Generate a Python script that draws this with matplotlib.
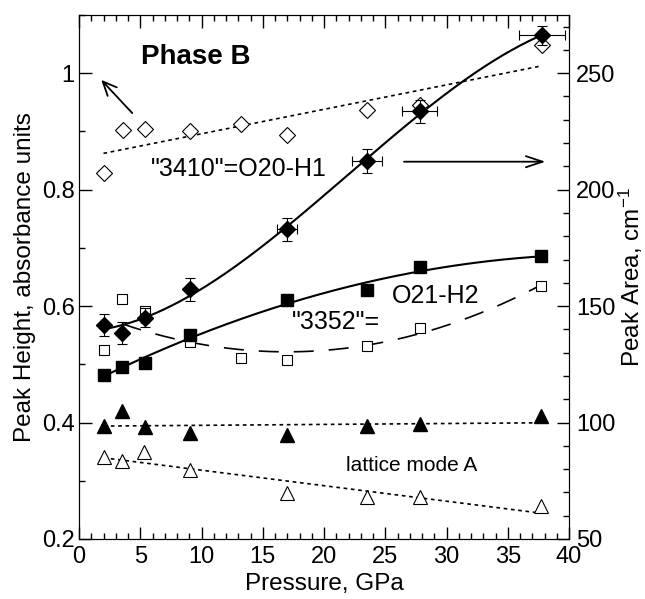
import matplotlib
matplotlib.use("Agg")
import matplotlib.pyplot as plt
from matplotlib.ticker import MultipleLocator
import numpy as np

plt.rcParams['font.family'] = ['Liberation Sans', 'DejaVu Sans']
plt.rcParams['mathtext.fontset'] = 'custom'
plt.rcParams['mathtext.rm'] = 'Liberation Sans'
plt.rcParams['mathtext.it'] = 'Liberation Sans:italic'

# "3410" peak height (open diamonds, left axis)
p_hd = [2.0, 3.6, 5.4, 9.1, 13.2, 17.0, 23.5, 27.8, 37.8]
h_hd = [0.829, 0.902, 0.905, 0.900, 0.913, 0.893, 0.936, 0.945, 1.048]

# "3410" peak area (filled diamonds, right axis)
p_fd = [2.0, 3.5, 5.4, 9.1, 17.0, 23.5, 27.8, 37.8]
a_fd = [142.0, 138.5, 145.0, 157.2, 183.0, 212.3, 233.7, 266.2]
a_fd_err = [4.7, 4.7, 4.0, 5.0, 5.0, 5.0, 5.0, 4.0]
p_fd_err = [0.2, 0.2, 0.3, 0.3, 0.8, 1.2, 1.4, 1.9]

# "3352" peak height (open squares, left axis)
p_hs = [2.0, 3.5, 5.4, 9.1, 13.2, 17.0, 23.5, 27.8, 37.7]
h_hs = [0.524, 0.612, 0.592, 0.539, 0.510, 0.508, 0.532, 0.562, 0.635]

# "3352" peak area (filled squares, right axis)
p_fs = [2.0, 3.5, 5.4, 9.1, 17.0, 23.5, 27.8, 37.7]
a_fs = [120.5, 123.8, 125.7, 137.7, 152.7, 157.0, 166.6, 171.3]

# lattice mode A height (open triangles, left axis)
p_ht = [2.0, 3.5, 5.3, 9.1, 17.0, 23.5, 27.8, 37.7]
h_ht = [0.341, 0.334, 0.350, 0.318, 0.279, 0.272, 0.272, 0.257]

# lattice mode A area (filled triangles, right axis)
p_ft = [2.0, 3.5, 5.4, 9.1, 17.0, 23.5, 27.8, 37.7]
a_ft = [98.5, 105.0, 98.0, 95.5, 94.5, 98.4, 99.5, 102.8]

fig = plt.figure(figsize=(6.45, 5.99), dpi=100)
ax = fig.add_axes([0.1225, 0.1002, 0.7597, 0.8748])
ax2 = ax.twinx()

ax.set_xlim(0, 40)
ax.set_ylim(0.2, 1.1)
ax2.set_ylim(50, 275)


def fit(x, y, deg, x0=None):
    c = np.polyfit(x, y, deg)
    xs = np.linspace(x[0] if x0 is None else x0, x[-1], 200)
    return xs, np.polyval(c, xs)


dot = (0, (2.2, 2.2))

# open diamonds + linear fit
xs, ys = fit(p_hd, h_hd, 1)
ax.plot(xs, ys, color='black', lw=1.2, ls=dot)
ax.plot(p_hd, h_hd, 'D', mfc='white', mec='black', ms=8, mew=0.8)

# open squares + dashed fit
xs, ys = fit(p_hs, h_hs, 2, x0=3.5)
ax.plot(xs, ys, color='black', lw=1.2, ls=(0, (12, 9)))
ax.plot(p_hs, h_hs, 's', mfc='white', mec='black', ms=6.5, mew=0.8)

# open triangles + fit
xs, ys = fit(p_ht, h_ht, 1)
ax.plot(xs, ys, color='black', lw=1.2, ls=dot)
ax.plot(p_ht, h_ht, '^', mfc='white', mec='black', ms=10, mew=0.8)

# filled diamonds + smooth fit
xs, ys = fit(p_fd, a_fd, 3)
ax2.plot(xs, ys, color='black', lw=1.5)
ax2.errorbar(p_fd, a_fd, yerr=a_fd_err, xerr=p_fd_err, fmt='D', color='black',
             ms=8, elinewidth=0.8, capsize=3.5, capthick=0.8)

# filled squares + fit
xs, ys = fit(p_fs, a_fs, 2)
ax2.plot(xs, ys, color='black', lw=1.5)
ax2.plot(p_fs, a_fs, 's', color='black', ms=8)

# filled triangles + fit
xs, ys = fit(p_ft, a_ft, 1)
ax2.plot(xs, ys, color='black', lw=1.2, ls=dot)
ax2.plot(p_ft, a_ft, '^', color='black', ms=10)

# ticks
for a in (ax, ax2):
    a.tick_params(which='both', direction='in', labelsize=17)
    a.tick_params(which='major', length=9, width=1)
    a.tick_params(which='minor', length=4.5, width=1)
ax.tick_params(axis='x', which='both', top=True)
ax.tick_params(axis='y', which='both', right=False)
ax.tick_params(axis='x', pad=5)
ax.tick_params(axis='y', pad=3)
ax2.tick_params(axis='y', pad=5)
ax.xaxis.set_major_locator(MultipleLocator(5))
ax.xaxis.set_minor_locator(MultipleLocator(1))
ax.yaxis.set_minor_locator(MultipleLocator(0.1))
ax.set_yticks([0.2, 0.4, 0.6, 0.8, 1.0])
ax.set_yticklabels(['0.2', '0.4', '0.6', '0.8', '1'])
ax2.yaxis.set_major_locator(MultipleLocator(50))
ax2.yaxis.set_minor_locator(MultipleLocator(10))

ax.set_xlabel('Pressure, GPa', fontsize=17.5)
ax.set_ylabel('Peak Height, absorbance units', fontsize=17.5)
ax2.set_ylabel('Peak Area, cm$^{-1}$', fontsize=17.5)
ax.yaxis.set_label_coords(-0.088, 0.5)
ax2.yaxis.set_label_coords(1.098, 0.5)

# annotations
ax2.text(5.1, 257, 'Phase B', fontsize=20, fontweight='bold', va='center')
ax2.text(5.9, 209, '"3410"=O20-H1', fontsize=18, va='center')
ax2.text(17.4, 143, '"3352"=', fontsize=18, va='center')
ax2.text(25.5, 154.5, 'O21-H2', fontsize=18, va='center')
ax2.text(21.8, 81.7, 'lattice mode A', fontsize=15, va='center')
ax2.annotate('', xy=(1.66, 248), xytext=(4.5, 232),
             arrowprops=dict(arrowstyle='->,head_length=1.0,head_width=0.45',
                             color='black', lw=1.3))
ax2.annotate('', xy=(38.3, 212), xytext=(26.3, 212),
             arrowprops=dict(arrowstyle='->,head_length=1.2,head_width=0.4',
                             color='black', lw=1.3))

fig.savefig('out.png', dpi=100)
